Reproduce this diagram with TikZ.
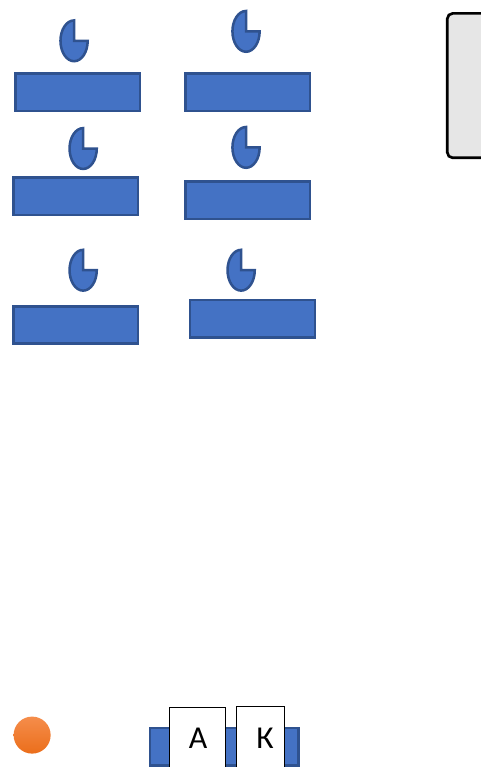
\documentclass[tikz,border=0pt]{standalone}
\usepackage{fontspec}
\setmainfont{Carlito}
\definecolor{boxblue}{HTML}{4472C4}
\definecolor{boxedge}{HTML}{2F528F}
\definecolor{panelgray}{HTML}{E6E6E6}
\definecolor{dottop}{HTML}{F58D4B}
\definecolor{dotbottom}{HTML}{EB6E1B}
\tikzset{
  bar/.style={rectangle, draw=boxedge, fill=boxblue, line width=1.9pt, minimum width=33mm, minimum height=9.9mm, anchor=north west},
  pie/.pic={\draw [draw=boxedge, fill=boxblue, line width=1.9pt] (0,0) -- (0,0.54) arc[start angle=90, end angle=360, x radius=0.36, y radius=0.54] -- cycle;},
  card/.style={rectangle, draw=black, fill=white, line width=0.8pt, minimum height=30mm, anchor=north west},
  letter/.style={font=\fontsize{24}{28}\selectfont}
}
\begin{document}
\begin{tikzpicture}
\useasboundingbox (0,0) rectangle (12.726,-20.294);

\node (barA) [bar] at (0.37,-1.91) {};
\pic at (1.96,-1.08) {pie};
\node (barB) [bar] at (4.87,-1.91) {};
\pic at (6.51,-0.83) {pie};
\node (barC) [bar] at (0.317,-4.66) {};
\pic at (2.2,-3.93) {pie};
\node (barD) [bar] at (4.87,-4.765) {};
\pic at (6.51,-3.90) {pie};
\node (barE) [bar] at (0.317,-8.07) {};
\pic at (2.2,-7.15) {pie};
\node (barF) [bar] at (5.0,-7.91) {};
\pic at (6.38,-7.15) {pie};

\node (panel) [rectangle, draw=black, fill=panelgray, line width=2pt, rounded corners=4pt, minimum width=40mm, minimum height=38.2mm, anchor=north west] at (11.80,-0.32) {};

\node (dot) [circle, minimum size=9.8mm, inner sep=0pt, top color=dottop, bottom color=dotbottom] at (0.85,-19.45) {};

\node (barG) [bar, minimum width=39.2mm] at (3.94,-19.23) {};
\node (cardA) [card, minimum width=14.8mm] at (4.47,-18.71) {};
\node (labelA) [letter] at (5.24,-19.54) {А};
\node (cardK) [card, minimum width=12.7mm] at (6.24,-18.68) {};
\node (labelK) [letter] at (7.01,-19.54) {К};
\end{tikzpicture}
\end{document}
